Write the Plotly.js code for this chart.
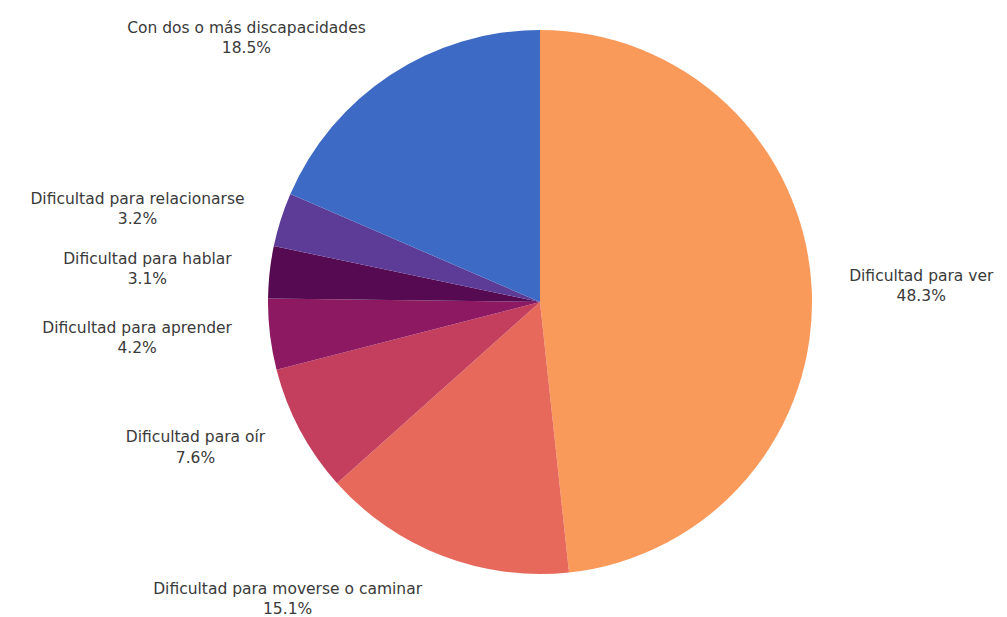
<!DOCTYPE html>
<html>
<head>
<meta charset="utf-8">
<script src="https://cdn.plot.ly/plotly-3.0.1.min.js"></script>
<style>html,body{margin:0;padding:0;background:#fff;}#chart{width:1007px;height:617px;}</style>
</head>
<body>
<div id="chart"></div>
<script>
const categories = [
  "Dificultad para ver",
  "Dificultad para moverse o caminar",
  "Dificultad para oír",
  "Dificultad para aprender",
  "Dificultad para hablar",
  "Dificultad para relacionarse",
  "Con dos o más discapacidades"
];
const values = [48.3, 15.1, 7.6, 4.2, 3.1, 3.2, 18.5];
const colors = ["#F99A5B", "#E6695C", "#C43F5E", "#8C1961", "#560A52", "#5D3C98", "#3D6AC4"];

const common = {
  type: "pie",
  labels: categories,
  values: values,
  sort: false,
  direction: "clockwise",
  rotation: 0,
  hoverinfo: "skip",
  showlegend: false
};

const piePie = Object.assign({}, common, {
  marker: {colors: colors, line: {width: 0}},
  textinfo: "none",
  domain: {x: [0.2661, 0.8064], y: [0.0697, 0.9514]}
});

const labelPie = Object.assign({}, common, {
  marker: {colors: categories.map(() => "rgba(0,0,0,0)"), line: {width: 0}},
  textposition: "outside",
  texttemplate: "%{label}<br>%{percent:.1%}",
  outsidetextfont: {family: "DejaVu Sans, sans-serif", size: 15.5, color: "#3a3a3a"},
  domain: {x: [0.2383, 0.8342], y: [0.0243, 0.9968]}
});

Plotly.newPlot("chart", [labelPie, piePie], {
  width: 1007,
  height: 617,
  margin: {l: 0, r: 0, t: 0, b: 0},
  paper_bgcolor: "#ffffff",
  plot_bgcolor: "#ffffff",
  showlegend: false
}, {displayModeBar: false, staticPlot: true});
</script>
</body>
</html>
